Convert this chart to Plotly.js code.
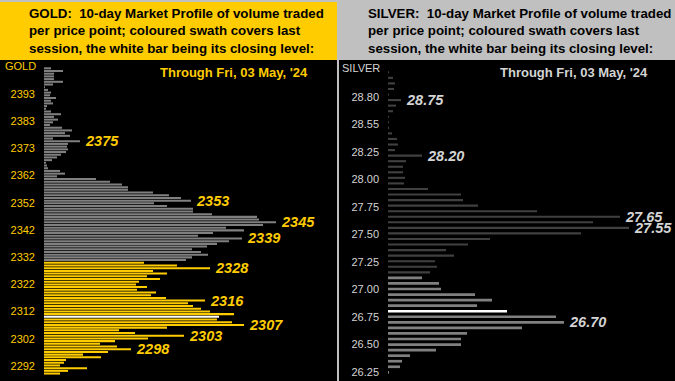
<!DOCTYPE html>
<html>
<head>
<meta charset="utf-8">
<script src="https://cdn.plot.ly/plotly-3.0.1.min.js"></script>
<style>html,body{margin:0;padding:0;background:#C0C0C0;}#chart{width:675px;height:381px;}</style>
</head>
<body>
<div id="chart"></div>
<script>
// ---------- GOLD data ----------
const goldPriorPrices = [2402,2401,2400,2399,2398,2397,2396,2395,2394,2393,2392,2391,2390,2389,2388,2387,2386,2385,2384,2383,2382,2381,2380,2379,2378,2377,2376,2375,2374,2373,2372,2371,2370,2369,2368,2367,2366,2365,2364,2363,2362,2361,2360,2359,2358,2357,2356,2355,2354,2353,2352,2351,2350,2349,2348,2347,2346,2345,2344,2343,2342,2341,2340,2339,2338,2337,2336,2335,2334,2333,2332,2331];
const goldPriorVolume = [7,19,10,10,10,19,9,1,4,7,6,12,7,9,3,2,7,17,10,14,9,6,18,28,21,26,9,36,24,23,24,22,17,13,8,2,3,4,16,21,13,52,66,78,84,84,109,125,137,147,110,123,149,149,168,213,215,232,219,182,200,169,154,198,185,173,163,148,157,164,148,142];
const goldLastPrices = [2330,2329,2328,2327,2326,2325,2324,2323,2322,2321,2320,2319,2318,2317,2316,2315,2314,2313,2312,2311,2310,2309,2308,2307,2306,2305,2304,2303,2302,2301,2300,2299,2298,2297,2296,2295,2294,2293,2292,2291,2290,2289];
const goldLastVolume = [100,133,166,109,123,103,116,95,92,103,93,112,107,122,161,144,149,157,166,190,175,173,188,200,123,75,91,140,104,71,56,73,87,64,39,57,22,20,16,43,24,16];
const goldClose = 2310;
const goldTickText = ['2393','2383','2373','2362','2352','2342','2332','2322','2312','2302','2292'];
const goldLabelPrices = [2375,2353,2345,2339,2328,2316,2307,2303,2298];

// ---------- SILVER data ----------
const silverPriorPrices = [28.95,28.90,28.85,28.80,28.75,28.70,28.65,28.60,28.55,28.50,28.45,28.40,28.35,28.30,28.25,28.20,28.15,28.10,28.05,28.00,27.95,27.90,27.85,27.80,27.75,27.70,27.65,27.60,27.55,27.50,27.45,27.40,27.35,27.30,27.25,27.20,27.15];
const silverPriorVolume = [1,5,7,6,1,13,8,5,1,1,1,4,9,10,7,34,18,15,15,17,16,40,73,75,90,149,232,205,241,193,102,80,58,66,47,49,42];
const silverLastPrices = [27.10,27.05,27.00,26.95,26.90,26.85,26.80,26.75,26.70,26.65,26.60,26.55,26.50,26.45,26.40,26.35,26.30,26.25];
const silverLastVolume = [34,51,53,87,104,89,119,168,176,134,79,73,73,48,22,14,12,1];
const silverClose = 26.80;
const silverTickText = ['28.80','28.55','28.25','28.00','27.75','27.50','27.25','27.00','26.75','26.50','26.25'];
const silverLabelPrices = [28.70,28.20,27.65,27.55,26.70];
const silverLabelText = ['28.75','28.20','27.65','27.55','26.70'];

// ---------- helpers ----------
const W = 675, H = 381;
const px = v => v / W;
const py = v => 1 - v / H;
const YELLOW = '#FFCC00';
const LGREY = '#D4D4D4';
const SANS = 'Liberation Sans, Arial, sans-serif';

function linTicks(start, step, n) { const a = []; for (let i = 0; i < n; i++) a.push(start + step * i); return a; }

const data = [
  {type:'bar', orientation:'h', x:goldPriorVolume, y:goldPriorPrices, xaxis:'x', yaxis:'y',
   marker:{color:'#808080', line:{width:0}}, hoverinfo:'none'},
  {type:'bar', orientation:'h', x:goldLastVolume, y:goldLastPrices, xaxis:'x', yaxis:'y',
   marker:{color:goldLastPrices.map(p => p === goldClose ? '#FFFFFF' : YELLOW), line:{width:0}}, hoverinfo:'none'},
  {type:'bar', orientation:'h', x:silverPriorVolume, y:silverPriorPrices, xaxis:'x2', yaxis:'y2', width:0.019,
   marker:{color:'#404040', line:{width:0}}, hoverinfo:'none'},
  {type:'bar', orientation:'h', x:silverLastVolume, y:silverLastPrices, xaxis:'x2', yaxis:'y2', width:0.024,
   marker:{color:silverLastPrices.map(p => Math.abs(p - silverClose) < 1e-9 ? '#FFFFFF' : '#808080'), line:{width:0}}, hoverinfo:'none'}
];

const annotations = [];
// headers
annotations.push({xref:'paper', yref:'paper', x:px(27), y:py(31), xanchor:'left', yanchor:'middle', align:'left', showarrow:false,
  text:'<b>GOLD:\u00a0 10-day Market Profile of volume traded<br>per price point; coloured swath covers last<br>session, the white bar being its closing level:</b>',
  font:{family:SANS, size:13.3, color:'#000000'}});
annotations.push({xref:'paper', yref:'paper', x:px(366), y:py(31), xanchor:'left', yanchor:'middle', align:'left', showarrow:false,
  text:'<b>SILVER:\u00a0 10-day Market Profile of volume traded<br>per price point; coloured swath covers last<br>session, the white bar being its closing level:</b>',
  font:{family:SANS, size:13.3, color:'#000000'}});
// through date
annotations.push({xref:'paper', yref:'paper', x:px(158), y:py(73), xanchor:'left', yanchor:'middle', showarrow:false,
  text:"<b>Through Fri, 03 May, '24</b>", font:{family:SANS, size:13, color:YELLOW}});
annotations.push({xref:'paper', yref:'paper', x:px(498), y:py(73), xanchor:'left', yanchor:'middle', showarrow:false,
  text:"<b>Through Fri, 03 May, '24</b>", font:{family:SANS, size:13, color:LGREY}});
// axis names
annotations.push({xref:'paper', yref:'paper', x:px(3), y:py(66), xanchor:'left', yanchor:'middle', showarrow:false,
  text:'GOLD', font:{family:SANS, size:11, color:YELLOW}});
annotations.push({xref:'paper', yref:'paper', x:px(340), y:py(68.5), xanchor:'left', yanchor:'middle', showarrow:false,
  text:'SILVER', font:{family:SANS, size:11, color:LGREY}});
// bar value labels
const goldAllP = goldPriorPrices.concat(goldLastPrices), goldAllV = goldPriorVolume.concat(goldLastVolume);
goldLabelPrices.forEach(p => {
  const v = goldAllV[goldAllP.indexOf(p)];
  annotations.push({xref:'x', yref:'y', x:v, y:p, xanchor:'left', yanchor:'middle', xshift:3, showarrow:false,
    text:'<b><i>' + p + '</i></b>', font:{family:SANS, size:14.5, color:YELLOW}});
});
const silAllP = silverPriorPrices.concat(silverLastPrices), silAllV = silverPriorVolume.concat(silverLastVolume);
silverLabelPrices.forEach((p, i) => {
  const idx = silAllP.findIndex(q => Math.abs(q - p) < 1e-9);
  annotations.push({xref:'x2', yref:'y2', x:silAllV[idx], y:p, xanchor:'left', yanchor:'middle', xshift:3, showarrow:false,
    text:'<b><i>' + silverLabelText[i] + '</i></b>', font:{family:SANS, size:14.5, color:LGREY}});
});

const shapes = [
  {type:'rect', xref:'paper', yref:'paper', x0:0, x1:px(337), y0:py(60), y1:py(2), fillcolor:YELLOW, line:{width:0}, layer:'below'},
  {type:'rect', xref:'paper', yref:'paper', x0:0, x1:px(337), y0:0, y1:py(60), fillcolor:'#000000', line:{width:0}, layer:'below'},
  {type:'rect', xref:'paper', yref:'paper', x0:px(339), x1:1, y0:0, y1:py(60), fillcolor:'#000000', line:{width:0}, layer:'below'}
];

const yDomain = [0, py(60)];
const layout = {
  width:W, height:H, margin:{l:0, r:0, t:0, b:0, pad:0},
  paper_bgcolor:'#C0C0C0', plot_bgcolor:'rgba(0,0,0,0)',
  showlegend:false, bargap:0.25, barmode:'overlay',
  xaxis:{domain:[px(44), px(337)], range:[0, 293], visible:false, fixedrange:true},
  yaxis:{domain:yDomain, range:[2286.24, 2405.07], showgrid:false, zeroline:false, showline:false, ticks:'',
    tickmode:'array', tickvals:linTicks(2392.49, -10.064, 11), ticktext:goldTickText,
    tickfont:{family:SANS, size:11, color:YELLOW}, ticklabelstandoff:8},
  xaxis2:{domain:[px(388), 1], range:[0, 287], visible:false, anchor:'y2'},
  yaxis2:{domain:yDomain, range:[26.172, 29.0607], anchor:'x2', showgrid:false, zeroline:false, showline:false, ticks:'',
    tickmode:'array', tickvals:linTicks(28.7277, -0.2475, 11), ticktext:silverTickText,
    tickfont:{family:SANS, size:11, color:LGREY}, ticklabelstandoff:8},
  annotations:annotations, shapes:shapes
};

Plotly.newPlot('chart', data, layout, {staticPlot:true, displayModeBar:false});
</script>
</body>
</html>
